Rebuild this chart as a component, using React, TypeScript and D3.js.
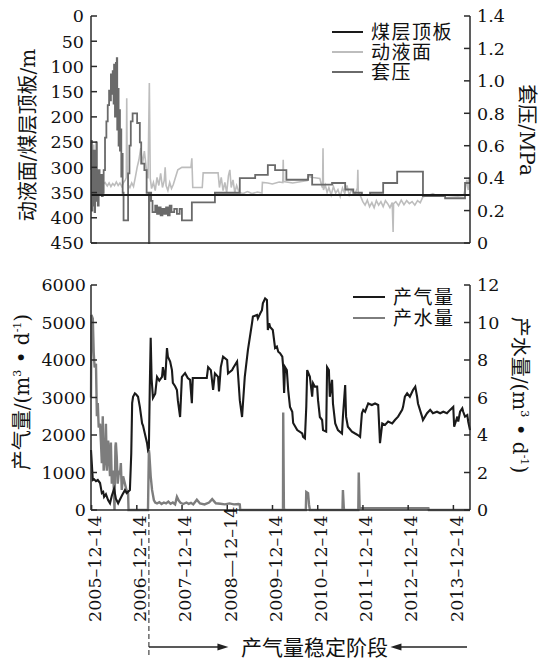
import React from 'react';
import * as d3 from 'd3';

const W = 551;
const H = 659;

// 煤层顶板 depth, m
const roofDepth = 355;

// 动液面 [decimal year, depth m]
const fluidLevel: [number, number][] = [
  [2005.94, 250], [2005.95, 300], [2005.96, 270], [2005.98, 330], [2006.0, 255], [2006.02, 320], [2006.04, 290],
  [2006.06, 335], [2006.08, 310], [2006.1, 325], [2006.12, 332], [2006.16, 328], [2006.2, 334], [2006.25, 330],
  [2006.3, 337], [2006.34, 331], [2006.38, 338], [2006.42, 332], [2006.46, 336], [2006.5, 329], [2006.54, 336],
  [2006.58, 331], [2006.62, 338], [2006.66, 330], [2006.7, 325], [2006.72, 320], [2006.73, 163], [2006.74, 300],
  [2006.76, 335], [2006.8, 340], [2006.84, 331], [2006.88, 338], [2006.92, 320], [2006.96, 300], [2007.0, 285],
  [2007.04, 262], [2007.08, 292], [2007.12, 268], [2007.16, 300], [2007.2, 322], [2007.23, 133], [2007.25, 322],
  [2007.28, 342], [2007.32, 330], [2007.36, 346], [2007.4, 320], [2007.44, 336], [2007.48, 312], [2007.52, 340],
  [2007.56, 326], [2007.58, 300], [2007.6, 336], [2007.64, 346], [2007.68, 330], [2007.72, 342], [2007.76, 334],
  [2007.8, 322], [2007.86, 305], [2007.95, 300], [2008.15, 300], [2008.17, 282], [2008.19, 340], [2008.4, 340],
  [2008.42, 311], [2008.75, 311], [2008.78, 340], [2008.82, 320], [2008.86, 346], [2008.9, 330], [2008.94, 350],
  [2008.98, 316], [2009.01, 305], [2009.04, 340], [2009.08, 325], [2009.12, 350], [2009.16, 336], [2009.2, 346],
  [2009.23, 350], [2009.3, 352], [2009.4, 348], [2009.5, 352], [2009.62, 349], [2009.72, 351], [2009.73, 330],
  [2009.85, 331], [2009.95, 333], [2010.1, 329], [2010.18, 330], [2010.19, 285], [2010.2, 328], [2010.4, 331],
  [2010.6, 328], [2010.72, 326], [2010.74, 318], [2010.85, 320], [2011.0, 322], [2011.04, 336], [2011.06, 341],
  [2011.07, 262], [2011.08, 345], [2011.12, 335], [2011.16, 350], [2011.2, 340], [2011.25, 355], [2011.3, 338],
  [2011.35, 351], [2011.4, 344], [2011.45, 358], [2011.5, 341], [2011.55, 352], [2011.6, 336], [2011.65, 355],
  [2011.7, 345], [2011.78, 352], [2011.83, 341], [2011.84, 305], [2011.85, 350], [2011.9, 357], [2011.95, 368],
  [2012.0, 375], [2012.05, 365], [2012.1, 378], [2012.15, 370], [2012.2, 380], [2012.25, 366], [2012.3, 375],
  [2012.35, 368], [2012.4, 378], [2012.45, 366], [2012.5, 372], [2012.55, 380], [2012.6, 370], [2012.62, 428],
  [2012.63, 372], [2012.68, 368], [2012.74, 376], [2012.8, 365], [2012.86, 374], [2012.92, 366], [2012.98, 372],
  [2013.04, 368], [2013.1, 375], [2013.16, 366], [2013.22, 370], [2013.28, 358], [2013.4, 356], [2013.5, 352],
  [2013.6, 357], [2013.75, 355], [2013.9, 356], [2014.05, 357], [2014.18, 356], [2014.22, 340], [2014.25, 325],
  [2014.28, 345], [2014.3, 320], [2014.32, 330],
];

// 套压 [decimal year, MPa]
const casingPressure: [number, number][] = [
  [2005.94, 0.45], [2005.95, 0.63], [2005.96, 0.2], [2005.97, 0.55], [2005.98, 0.42], [2005.99, 0.23], [2006.0, 0.57],
  [2006.02, 0.19], [2006.03, 0.48], [2006.05, 0.26], [2006.06, 0.62], [2006.07, 0.39], [2006.09, 0.23], [2006.11, 0.45],
  [2006.13, 0.3], [2006.16, 0.42], [2006.18, 0.29], [2006.2, 0.31], [2006.22, 0.45], [2006.25, 0.65], [2006.28, 0.75],
  [2006.31, 0.85], [2006.34, 0.94], [2006.36, 0.88], [2006.38, 1.04], [2006.4, 0.92], [2006.42, 1.06], [2006.44, 0.86],
  [2006.45, 1.1], [2006.47, 0.78], [2006.49, 1.11], [2006.51, 1.14], [2006.52, 0.7], [2006.54, 0.95], [2006.55, 0.6],
  [2006.56, 0.82], [2006.58, 0.57], [2006.6, 0.7], [2006.61, 0.41], [2006.62, 0.55], [2006.64, 0.31], [2006.66, 0.14],
  [2006.76, 0.43], [2006.79, 0.6], [2006.82, 0.75], [2006.86, 0.8], [2006.96, 0.74], [2007.02, 0.62], [2007.05, 0.49],
  [2007.12, 0.45], [2007.17, 0.31], [2007.22, 0.0], [2007.23, 0.31], [2007.27, 0.26], [2007.3, 0.19], [2007.36, 0.23],
  [2007.4, 0.18], [2007.44, 0.22], [2007.48, 0.17], [2007.52, 0.21], [2007.56, 0.18], [2007.6, 0.22], [2007.64, 0.17],
  [2007.68, 0.23], [2007.72, 0.19], [2007.78, 0.21], [2007.84, 0.18], [2007.9, 0.21], [2007.95, 0.14], [2008.17, 0.25],
  [2008.68, 0.31], [2009.23, 0.4], [2009.57, 0.42], [2009.85, 0.48], [2010.01, 0.45], [2010.26, 0.39], [2010.74, 0.42],
  [2010.83, 0.36], [2011.27, 0.37], [2011.56, 0.33], [2011.74, 0.31], [2011.93, 0.295], [2012.11, 0.31], [2012.4, 0.37],
  [2012.71, 0.44], [2013.28, 0.29], [2013.77, 0.276], [2014.21, 0.37], [2014.32, 0.37],
];

// 产气量 [decimal year, m3/d]
const gasRate: [number, number][] = [
  [2005.94, 1600], [2005.98, 800], [2006.01, 820], [2006.05, 770], [2006.09, 800], [2006.14, 720], [2006.18, 450],
  [2006.21, 480], [2006.23, 350], [2006.27, 420], [2006.32, 260], [2006.36, 180], [2006.4, 380], [2006.45, 560],
  [2006.49, 300], [2006.54, 180], [2006.58, 280], [2006.63, 400], [2006.69, 530], [2006.73, 450], [2006.8, 530],
  [2006.83, 1500], [2006.85, 2850], [2006.87, 3020], [2006.91, 3110], [2006.94, 3080], [2006.98, 3020], [2007.02, 2750],
  [2007.07, 2310], [2007.09, 2250], [2007.13, 2040], [2007.18, 1780], [2007.2, 1600], [2007.22, 1650], [2007.24, 3300],
  [2007.26, 4590], [2007.28, 3500], [2007.31, 2990], [2007.36, 3100], [2007.4, 3550], [2007.45, 3450], [2007.51, 3550],
  [2007.53, 3810], [2007.58, 3470], [2007.62, 4320], [2007.64, 4090], [2007.69, 3960], [2007.73, 3730], [2007.75, 3390],
  [2007.8, 3300], [2007.84, 3200], [2007.86, 2930], [2007.91, 2480], [2007.95, 3550], [2008.02, 3650], [2008.08, 3520],
  [2008.13, 3470], [2008.17, 2850], [2008.19, 3520], [2008.5, 3520], [2008.53, 3810], [2008.59, 3730], [2008.64, 3200],
  [2008.68, 3640], [2008.75, 3550], [2008.77, 3160], [2008.81, 3810], [2008.86, 4090], [2008.95, 4000], [2008.97, 3640],
  [2009.06, 3730], [2009.08, 3780], [2009.17, 3960], [2009.19, 3640], [2009.23, 2930], [2009.28, 2480], [2009.3, 2840],
  [2009.34, 3550], [2009.41, 4270], [2009.5, 4980], [2009.52, 5160], [2009.61, 5200], [2009.63, 5110], [2009.68, 5240],
  [2009.72, 5330], [2009.74, 5510], [2009.79, 5640], [2009.83, 5600], [2009.85, 4800], [2009.88, 4980], [2009.9, 4880],
  [2009.96, 4800], [2010.01, 4320], [2010.05, 4360], [2010.08, 4220], [2010.12, 4180], [2010.17, 4090], [2010.19, 3810],
  [2010.21, 3120], [2010.23, 3810], [2010.27, 3730], [2010.3, 3200], [2010.34, 2750], [2010.39, 2620], [2010.41, 2320],
  [2010.5, 2130], [2010.61, 2040], [2010.63, 1950], [2010.67, 1910], [2010.7, 2750], [2010.72, 3730], [2010.78, 3550],
  [2010.83, 3020], [2010.85, 3380], [2010.89, 3290], [2010.94, 3290], [2010.96, 2930], [2011.0, 2480], [2011.05, 2400],
  [2011.07, 2130], [2011.14, 2090], [2011.16, 3810], [2011.2, 3730], [2011.22, 3020], [2011.27, 3470], [2011.29, 2840],
  [2011.34, 2310], [2011.4, 2130], [2011.49, 2040], [2011.51, 2490], [2011.56, 3330], [2011.58, 2490], [2011.62, 2220],
  [2011.71, 2090], [2011.78, 2040], [2011.84, 2000], [2011.89, 1950], [2011.93, 2580], [2011.96, 2670], [2012.0, 2620],
  [2012.04, 2750], [2012.07, 2840], [2012.15, 2800], [2012.22, 2840], [2012.29, 2800], [2012.33, 1780], [2012.38, 2310],
  [2012.44, 2270], [2012.51, 2360], [2012.6, 2310], [2012.66, 2400], [2012.73, 2490], [2012.82, 2670], [2012.84, 2750],
  [2012.88, 3020], [2012.93, 3110], [2012.99, 3020], [2013.06, 3200], [2013.11, 3290], [2013.15, 3020], [2013.17, 2840],
  [2013.26, 2490], [2013.28, 2400], [2013.37, 2580], [2013.44, 2670], [2013.5, 2580], [2013.59, 2620], [2013.66, 2580],
  [2013.73, 2620], [2013.81, 2580], [2013.88, 2670], [2013.95, 2750], [2013.97, 2220], [2014.04, 2490], [2014.06, 2360],
  [2014.1, 2620], [2014.15, 2710], [2014.17, 2620], [2014.21, 2490], [2014.26, 2530], [2014.28, 2360], [2014.32, 2130],
];

// 产水量 [decimal year, m3/d]
const waterRate: [number, number][] = [
  [2005.94, 6.0], [2005.95, 10.4], [2005.98, 10.2], [2006.0, 8.4], [2006.02, 7.6], [2006.05, 7.8], [2006.07, 5.0],
  [2006.09, 5.7], [2006.11, 4.4], [2006.14, 4.6], [2006.16, 3.6], [2006.18, 2.5], [2006.2, 5.0], [2006.22, 2.1],
  [2006.25, 2.8], [2006.27, 4.6], [2006.29, 2.1], [2006.32, 3.7], [2006.34, 2.8], [2006.36, 1.8], [2006.38, 3.6],
  [2006.4, 1.4], [2006.43, 2.1], [2006.46, 0], [2006.48, 3.4], [2006.49, 3.6], [2006.51, 2.8], [2006.53, 1.4],
  [2006.56, 2.1], [2006.58, 1.9], [2006.6, 2.5], [2006.62, 1.07], [2006.65, 1.8], [2006.68, 1.5], [2006.72, 1.1],
  [2006.76, 0.9], [2006.77, 0], [2007.2, 0], [2007.22, 3.2], [2007.23, 3.0], [2007.26, 1.8], [2007.29, 1.07],
  [2007.33, 0.53], [2007.36, 0.4], [2007.4, 0.35], [2007.45, 0.42], [2007.5, 0.32], [2007.55, 0.4], [2007.6, 0.35],
  [2007.65, 0.45], [2007.7, 0.33], [2007.75, 0.4], [2007.8, 0.3], [2007.84, 0.7], [2007.88, 0.5], [2007.92, 0.38],
  [2007.98, 0.32], [2008.05, 0.4], [2008.1, 0.33], [2008.15, 0.38], [2008.2, 0.3], [2008.28, 0.55], [2008.35, 0.35],
  [2008.45, 0.3], [2008.55, 0.4], [2008.62, 0.58], [2008.7, 0.36], [2008.8, 0.33], [2008.9, 0.3], [2009.0, 0.35],
  [2009.1, 0.3], [2009.2, 0.32], [2009.23, 0.3], [2009.24, 0], [2010.185, 0], [2010.19, 5.2], [2010.205, 0.1],
  [2010.22, 0], [2010.69, 0], [2010.7, 0.96], [2010.74, 0.9], [2010.76, 0.3], [2010.78, 0], [2011.5, 0],
  [2011.51, 1.07], [2011.53, 0.1], [2011.54, 0], [2011.85, 0], [2011.86, 2.0], [2011.88, 0.1], [2013.4, 0.1],
  [2013.41, 0], [2014.32, 0],
];

const depthTicks = [0, 50, 100, 150, 200, 250, 300, 350, 400, 450];
const pressureTicks = [0, 0.2, 0.4, 0.6, 0.8, 1.0, 1.2, 1.4];
const gasTicks = [0, 1000, 2000, 3000, 4000, 5000, 6000];
const waterTicks = [0, 2, 4, 6, 8, 10, 12];
const dateTickYears = [2005.953, 2006.953, 2007.953, 2008.953, 2009.953, 2010.953, 2011.953, 2012.953, 2013.953];
const dateTickLabels = ['2005–12–14', '2006–12–14', '2007–12–14', '2008—12–14', '2009–12–14', '2010–12–14', '2011–12–14', '2012–12–14', '2013–12–14'];
const stableStart = 2007.22;

const topLegend = [
  { name: '煤层顶板', color: '#1a1a1a' },
  { name: '动液面', color: '#bdbdbd' },
  { name: '套压', color: '#6a6a6a' },
];
const bottomLegend = [
  { name: '产气量', color: '#1a1a1a' },
  { name: '产水量', color: '#7d7d7d' },
];

const FONT = '"DejaVu Serif", "Noto Sans CJK SC", serif';
const AXIS = '#2a2a2a';

export default function App() {
  const left = 91;
  const right = 470;
  const x = d3.scaleLinear().domain([2005.94, 2014.32]).range([left, right]);

  const depth = d3.scaleLinear().domain([0, 450]).range([16, 243]);
  const press = d3.scaleLinear().domain([0, 1.4]).range([243, 16]);
  const gas = d3.scaleLinear().domain([0, 6000]).range([510, 285]);
  const water = d3.scaleLinear().domain([0, 12]).range([510, 285]);

  const fluidPath = d3.line<[number, number]>().x(d => x(d[0])).y(d => depth(d[1]))(fluidLevel) || '';
  const pressPath = d3.line<[number, number]>().curve(d3.curveStepAfter).x(d => x(d[0])).y(d => press(d[1]))(casingPressure) || '';
  const gasPath = d3.line<[number, number]>().x(d => x(d[0])).y(d => gas(d[1]))(gasRate) || '';
  const waterPath = d3.line<[number, number]>().x(d => x(d[0])).y(d => water(d[1]))(waterRate) || '';

  const fmtP = (v: number) => (v === 0 ? '0' : v.toFixed(1));

  const arrowY = 647;
  const textX = x(2010.88);
  const leftStart = x(stableStart);
  const leftEnd = textX - 86;
  const rightStart = right - 3;
  const rightEnd = textX + 76;

  const sup = (
    <>
      <tspan dy={-8} fontSize={11}>3</tspan>
      <tspan dy={8}> • d</tspan>
      <tspan dy={-8} fontSize={11}>-1</tspan>
      <tspan dy={8}>)</tspan>
    </>
  );

  return (
    <svg width={W} height={H} style={{ position: 'absolute', left: 0, top: 0, background: '#fff', fontFamily: FONT }}>
      {/* top panel */}
      <path d={fluidPath} fill="none" stroke="#bdbdbd" strokeWidth={1.6} />
      <path d={pressPath} fill="none" stroke="#6a6a6a" strokeWidth={1.8} />
      <line x1={left} x2={right} y1={depth(roofDepth)} y2={depth(roofDepth)} stroke="#1a1a1a" strokeWidth={2} />

      <g stroke={AXIS} strokeWidth={1.5} fill="none">
        <line x1={left} x2={left} y1={16} y2={243} />
        <line x1={right} x2={right} y1={16} y2={243} />
        <line x1={left} x2={right} y1={243} y2={243} />
        {depthTicks.map(t => <line key={'dt' + t} x1={left} x2={left + 6} y1={depth(t)} y2={depth(t)} />)}
        {pressureTicks.map(t => <line key={'pt' + t} x1={right - 6} x2={right} y1={press(t)} y2={press(t)} />)}
      </g>
      <g fontSize={17.5} fill="#111">
        {depthTicks.map(t => (
          <text key={'dl' + t} x={84} y={depth(t)} dy="0.36em" textAnchor="end">{t}</text>
        ))}
        {pressureTicks.map(t => (
          <text key={'pl' + t} x={477} y={press(t)} dy="0.36em">{fmtP(t)}</text>
        ))}
      </g>
      <text transform="translate(28,135) rotate(-90)" textAnchor="middle" dy="0.35em" fontSize={20} fill="#111">动液面/煤层顶板/m</text>
      <text transform="translate(527,130) rotate(90)" textAnchor="middle" dy="0.35em" fontSize={20} fill="#111">套压/MPa</text>

      {topLegend.map((l, i) => (
        <g key={l.name}>
          <line x1={332} x2={363} y1={32 + i * 20} y2={32 + i * 20} stroke={l.color} strokeWidth={2} />
          <text x={371} y={32 + i * 20} dy="0.36em" fontSize={19} letterSpacing={1.5} fill="#111">{l.name}</text>
        </g>
      ))}

      {/* bottom panel */}
      <path d={waterPath} fill="none" stroke="#7d7d7d" strokeWidth={2.4} />
      <path d={gasPath} fill="none" stroke="#1a1a1a" strokeWidth={2.1} />

      <g stroke={AXIS} strokeWidth={1.5} fill="none">
        <line x1={left} x2={left} y1={285} y2={510} />
        <line x1={right} x2={right} y1={285} y2={510} />
        <line x1={left} x2={right} y1={510} y2={510} />
        {gasTicks.map(t => <line key={'gt' + t} x1={left} x2={left + 6} y1={gas(t)} y2={gas(t)} />)}
        {waterTicks.map(t => <line key={'wt' + t} x1={right - 6} x2={right} y1={water(t)} y2={water(t)} />)}
        {dateTickYears.map(t => <line key={'xt' + t} x1={x(t)} x2={x(t)} y1={510} y2={505} />)}
      </g>
      <g fontSize={17.5} fill="#111">
        {gasTicks.map(t => (
          <text key={'gl' + t} x={86} y={gas(t)} dy="0.36em" textAnchor="end">{t}</text>
        ))}
        {waterTicks.map(t => (
          <text key={'wl' + t} x={477} y={water(t)} dy="0.36em">{t}</text>
        ))}
        {dateTickYears.map((t, i) => (
          <text key={'xl' + t} transform={`translate(${x(t) + 3},622) rotate(-90)`} dy="0.36em">{dateTickLabels[i]}</text>
        ))}
      </g>
      <text transform="translate(22,392) rotate(-90)" textAnchor="middle" dy="0.35em" fontSize={20} fill="#111">
        产气量/(m{sup}
      </text>
      <text transform="translate(520,395) rotate(90)" textAnchor="middle" dy="0.35em" fontSize={20} fill="#111">
        产水量/(m{sup}
      </text>

      {bottomLegend.map((l, i) => (
        <g key={l.name}>
          <line x1={353} x2={385} y1={297 + i * 21} y2={297 + i * 21} stroke={l.color} strokeWidth={2} />
          <text x={393} y={297 + i * 21} dy="0.36em" fontSize={19} letterSpacing={1.5} fill="#111">{l.name}</text>
        </g>
      ))}

      {/* stable production annotation */}
      <line x1={leftStart} x2={leftStart} y1={514} y2={657} stroke="#444" strokeWidth={1.2} strokeDasharray="5,3" />
      <line x1={leftStart} x2={leftEnd - 8} y1={arrowY} y2={arrowY} stroke="#222" strokeWidth={1.3} />
      <path d={`M${leftEnd},${arrowY} L${leftEnd - 11},${arrowY - 3.5} L${leftEnd - 11},${arrowY + 3.5} Z`} fill="#222" />
      <line x1={rightStart} x2={rightEnd + 8} y1={arrowY} y2={arrowY} stroke="#222" strokeWidth={1.3} />
      <path d={`M${rightEnd},${arrowY} L${rightEnd + 11},${arrowY - 3.5} L${rightEnd + 11},${arrowY + 3.5} Z`} fill="#222" />
      <text x={textX} y={arrowY} dy="0.36em" textAnchor="middle" fontSize={21} fill="#111">产气量稳定阶段</text>
    </svg>
  );
}
